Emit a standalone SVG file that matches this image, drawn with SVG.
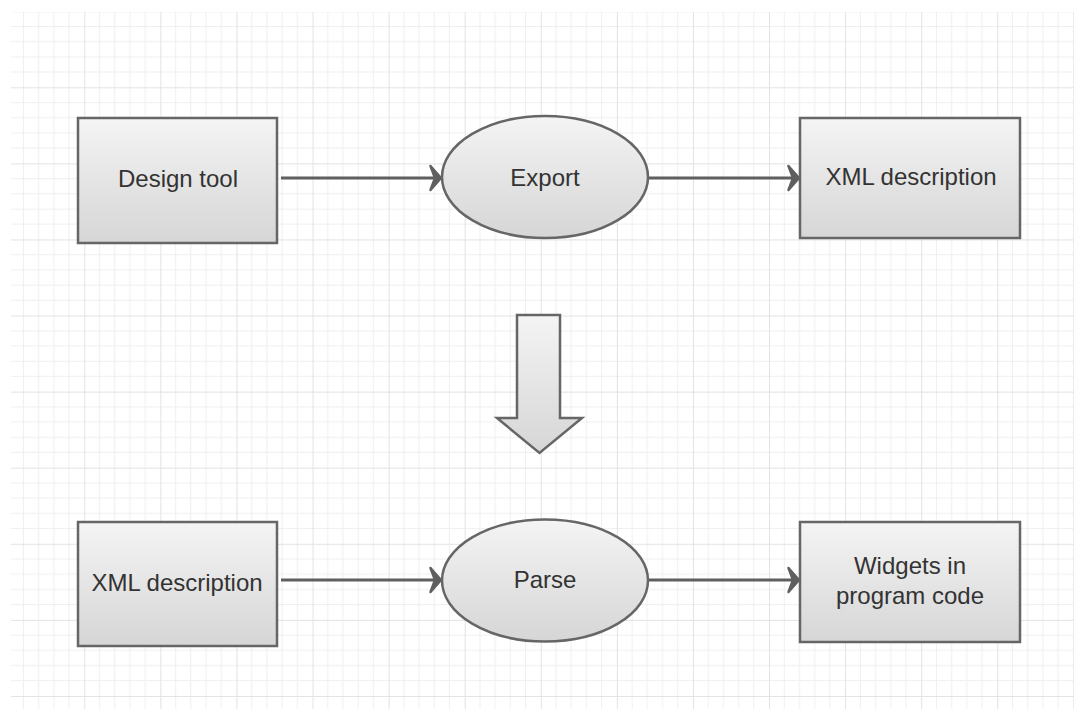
<svg xmlns="http://www.w3.org/2000/svg" width="1074" height="709" viewBox="0 0 1074 709">
  <defs>
    <pattern id="grid" x="8.22" y="11.22" width="76.08" height="76.08" patternUnits="userSpaceOnUse">
      <g stroke="#efefef" stroke-width="1">
        <line x1="15.22" y1="0" x2="15.22" y2="76.08"/>
        <line x1="30.43" y1="0" x2="30.43" y2="76.08"/>
        <line x1="45.65" y1="0" x2="45.65" y2="76.08"/>
        <line x1="60.86" y1="0" x2="60.86" y2="76.08"/>
        <line x1="0" y1="15.22" x2="76.08" y2="15.22"/>
        <line x1="0" y1="30.43" x2="76.08" y2="30.43"/>
        <line x1="0" y1="45.65" x2="76.08" y2="45.65"/>
        <line x1="0" y1="60.86" x2="76.08" y2="60.86"/>
      </g>
      <g stroke="#e2e2e2" stroke-width="1">
        <line x1="0.5" y1="0" x2="0.5" y2="76.08"/>
        <line x1="0" y1="0.5" x2="76.08" y2="0.5"/>
      </g>
    </pattern>
    <linearGradient id="fill" x1="0" y1="0" x2="0" y2="1">
      <stop offset="0" stop-color="#f4f4f4"/>
      <stop offset="1" stop-color="#d6d6d6"/>
    </linearGradient>
    <marker id="open" viewBox="0 0 16 28" refX="14" refY="14" markerWidth="16" markerHeight="28" markerUnits="userSpaceOnUse" orient="auto" overflow="visible">
      <path d="M2.5,2 L13,14 L2.5,26 L7,14 Z" fill="#5f5f5f" stroke="#5f5f5f" stroke-width="2.5" stroke-linejoin="round"/>
    </marker>
    <style>
      .shape { fill: url(#fill); stroke: #666666; stroke-width: 2.5; }
      .label { font-family: "Liberation Sans", Arial, sans-serif; font-size: 24px; fill: #333333; text-anchor: middle; }
      .edge { fill: none; stroke: #5f5f5f; stroke-width: 2.8; marker-end: url(#open); }
    </style>
  </defs>

  <rect x="0" y="0" width="1074" height="709" fill="#ffffff"/>
  <rect x="11" y="12" width="1063" height="697" fill="url(#grid)"/>

  <g id="connectors">
    <line class="edge" x1="281" y1="178" x2="442" y2="178"/>
    <line class="edge" x1="648" y1="178" x2="800" y2="178"/>
    <line class="edge" x1="281" y1="580" x2="442" y2="580"/>
    <line class="edge" x1="648" y1="580" x2="800" y2="580"/>
  </g>

  <g id="design-tool">
    <rect class="shape" x="78" y="118" width="199" height="125"/>
    <text class="label" x="178" y="187">Design tool</text>
  </g>

  <g id="export">
    <ellipse class="shape" cx="545" cy="177" rx="103" ry="61"/>
    <text class="label" x="545" y="186">Export</text>
  </g>

  <g id="xml-description-top">
    <rect class="shape" x="800" y="118" width="220" height="120"/>
    <text class="label" x="911" y="185">XML description</text>
  </g>

  <g id="block-arrow">
    <path class="shape" d="M517,315 L560,315 L560,418 L582,418 L539.5,453 L497,418 L517,418 Z" stroke-linejoin="miter"/>
  </g>

  <g id="xml-description-bottom">
    <rect class="shape" x="78" y="522" width="199" height="124"/>
    <text class="label" x="177" y="591">XML description</text>
  </g>

  <g id="parse">
    <ellipse class="shape" cx="545" cy="580.5" rx="103" ry="61"/>
    <text class="label" x="545" y="588">Parse</text>
  </g>

  <g id="widgets">
    <rect class="shape" x="800" y="522" width="220" height="120"/>
    <text class="label" x="910" y="574">Widgets in</text>
    <text class="label" x="910" y="604">program code</text>
  </g>
</svg>
